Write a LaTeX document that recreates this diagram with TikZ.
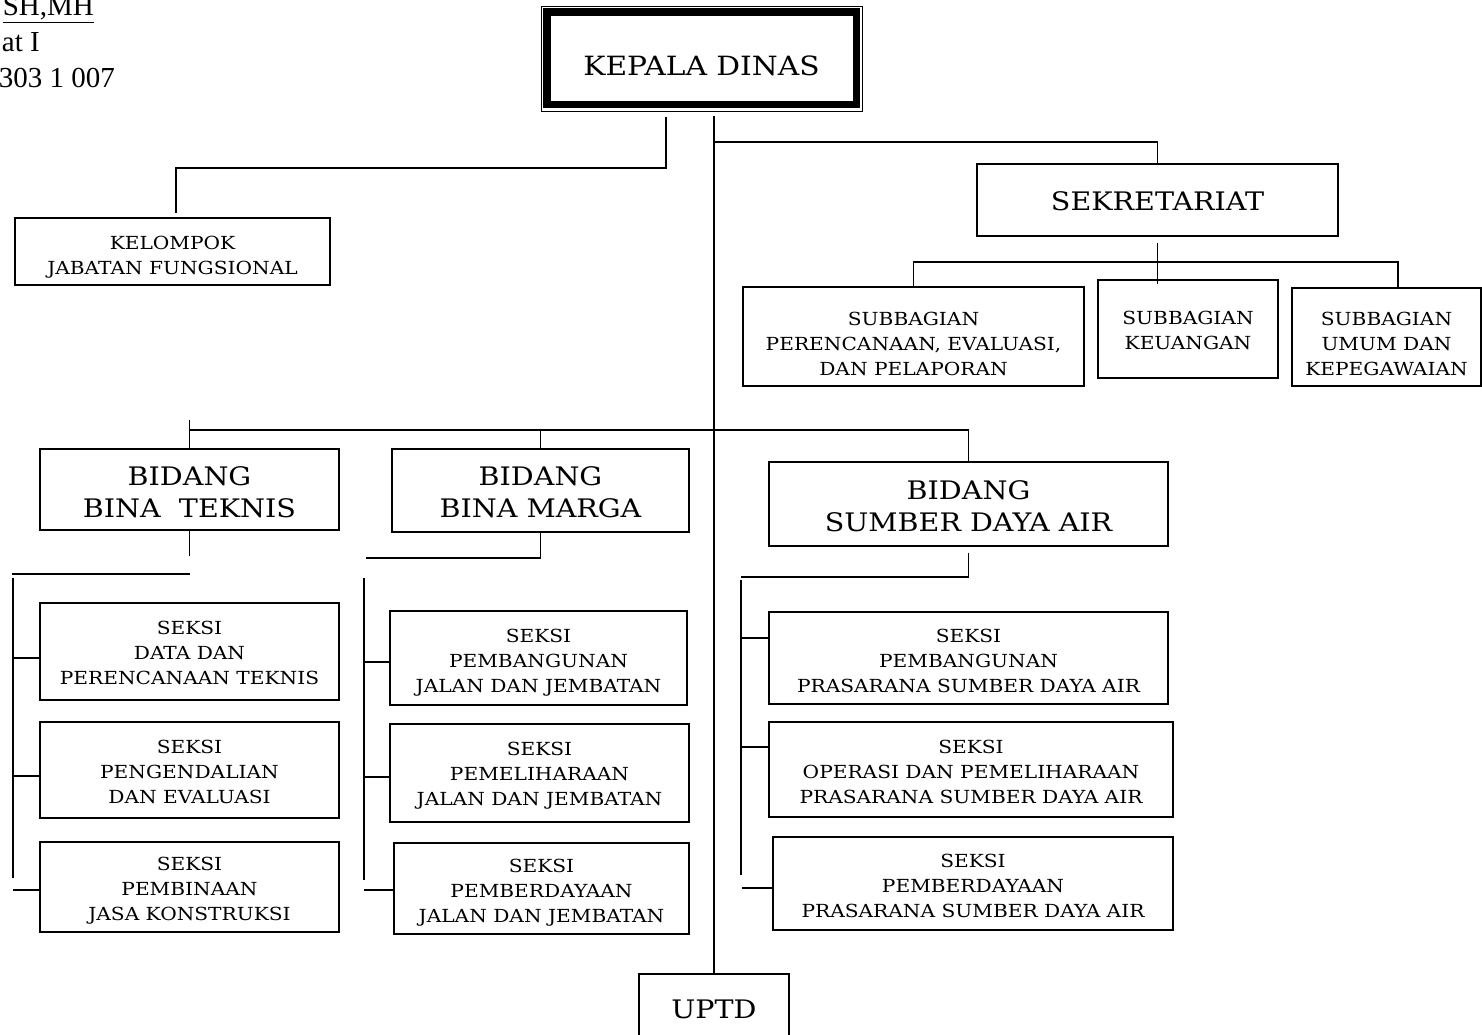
\documentclass[tikz,border=0pt]{standalone}
\usepackage{fontspec}
\setmainfont{DejaVu Serif}[FakeStretch=1.12]
\newfontfamily\timesfont{Liberation Serif}
\usetikzlibrary{calc}
\tikzset{
  orgbox/.style={draw, line width=1.3pt, rectangle, inner sep=0pt},
  boxtext/.style={inner sep=0pt, align=center},
  small/.style={boxtext, font=\fontsize{18}{25}\selectfont},
  large/.style={boxtext, font=\fontsize{25.5}{32}\selectfont},
  conn/.style={line width=1.6pt},
  sig/.style={font=\timesfont\fontsize{29}{36}\selectfont, inner sep=0pt}
}
% name, x1, y1, x2, y2, text style, text offset down, text
\newcommand\orgnode[8]{%
  \node[orgbox,minimum width={(#4-#2)*1pt},minimum height={(#5-#3)*1pt}]
    (#1) at ({(#2+#4)/2},{(#3+#5)/2}) {};
  \node[#6] (#1-t) at ([yshift=-#7pt]#1.center) {#8};}
\begin{document}
\begin{tikzpicture}[x=1pt,y=-1pt]
\useasboundingbox (0,0) rectangle (1482,1035);
\clip (0,0) rectangle (1482,1035);

% signature fragment
\node[sig, anchor=base east] (sig1) at (94,16) {\underline{SH,MH}};
\node[sig, anchor=base east] (sig2) at (40,52) {at I};
\node[sig, anchor=base east] (sig3) at (115,88) {303 1 007};

% Kepala Dinas
\node[draw, line width=0.8pt, inner sep=0pt, minimum width=321pt, minimum height=105pt] (kd) at (701.5,58.5) {};
\draw[line width=7.5pt] ([xshift=6.5pt,yshift=-6.5pt]kd.north west) rectangle ([xshift=-6pt,yshift=7pt]kd.south east);
\node[boxtext, font=\fontsize{26.5}{30}\selectfont] (kd-t) at ([yshift=-7pt]kd.center) {KEPALA DINAS};

\orgnode{kel}{15}{218}{330}{285}{small}{6}{KELOMPOK\\JABATAN FUNGSIONAL}
\orgnode{sek}{977}{164}{1338}{236}{large}{1}{SEKRETARIAT}
\orgnode{sp}{743}{287}{1084}{386}{small}{7}{SUBBAGIAN\\PERENCANAAN, EVALUASI,\\DAN PELAPORAN}
\orgnode{sk}{1098}{280}{1278}{378}{small}{1}{SUBBAGIAN\\KEUANGAN}
\orgnode{su}{1292}{288}{1481}{386}{small}{7}{SUBBAGIAN\\UMUM DAN\\KEPEGAWAIAN}

\orgnode{bt}{40}{449}{339}{530}{large}{3}{BIDANG\\BINA\ \ TEKNIS}
\orgnode{bm}{392}{449}{689}{532}{large}{2}{BIDANG\\BINA MARGA}
\orgnode{bs}{769}{462}{1168}{546}{large}{2.5}{BIDANG\\SUMBER DAYA AIR}

\orgnode{t1}{40}{603}{339}{700}{small}{1}{SEKSI\\DATA DAN\\PERENCANAAN TEKNIS}
\orgnode{t2}{40}{722}{339}{818}{small}{2}{SEKSI\\PENGENDALIAN\\DAN EVALUASI}
\orgnode{t3}{40}{842}{339}{932}{small}{3.5}{SEKSI\\PEMBINAAN\\JASA KONSTRUKSI}

\orgnode{m1}{390}{611}{687}{705}{small}{5}{SEKSI\\PEMBANGUNAN\\JALAN DAN JEMBATAN}
\orgnode{m2}{390}{724}{689}{822}{small}{3}{SEKSI\\PEMELIHARAAN\\JALAN DAN JEMBATAN}
\orgnode{m3}{394}{843}{689}{934}{small}{4}{SEKSI\\PEMBERDAYAAN\\JALAN DAN JEMBATAN}

\orgnode{s1}{769}{612}{1168}{704}{small}{3}{SEKSI\\PEMBANGUNAN\\PRASARANA SUMBER DAYA AIR}
\orgnode{s2}{769}{722}{1173}{817}{small}{2}{SEKSI\\OPERASI DAN PEMELIHARAAN\\PRASARANA SUMBER DAYA AIR}
\orgnode{s3}{773}{837}{1173}{930}{small}{2}{SEKSI\\PEMBERDAYAAN\\PRASARANA SUMBER DAYA AIR}

\orgnode{uptd}{639}{974}{789}{1040}{large}{2}{UPTD}

% connectors
\coordinate (jk) at (176,168);
\draw[conn] ([xshift=-35.5pt,yshift=-6pt]kd.south) |- (jk) -- (176,213);
\draw[conn] ([xshift=12.5pt,yshift=-5pt]kd.south) -- (uptd.north);
\draw[conn] (714,142) -| (sek.north);
\draw[conn] ([yshift=-6pt]sek.south) -- (1157.5,284);
\draw[conn] (sp.north) -- (913.5,262) -| (1398,287);

\draw[conn] (bt.north) -- (189.5,420);
\draw[conn] (189.5,430) -| (bs.north);
\draw[conn] (bm.north) -- (540.5,430);

% Teknis
\draw[conn] (bt.south) -- (189.5,556);
\draw[conn] (189.5,574) -- (12,574);
\draw[conn] (13,578) -- (13,878);
\draw[conn] (13,658) -- (t1.west |- 13,658);
\draw[conn] (13,776) -- (t2.west |- 13,776);
\draw[conn] (13,890) -- (t3.west |- 13,890);

% Marga
\draw[conn] (bm.south) |- (366,558);
\draw[conn] (364,578) -- (364,880);
\draw[conn] (364,662) -- (m1.west |- 364,662);
\draw[conn] (364,777) -- (m2.west |- 364,777);
\draw[conn] (364,890) -- (m3.west |- 364,890);

% Sumber daya air
\draw[conn] ([yshift=-6pt]bs.south) |- (741,577);
\draw[conn] (741,580) -- (741,875);
\draw[conn] (742,638) -- (s1.west |- 742,638);
\draw[conn] (742,747) -- (s2.west |- 742,747);
\draw[conn] (742,888) -- (s3.west |- 742,888);
\end{tikzpicture}
\end{document}
